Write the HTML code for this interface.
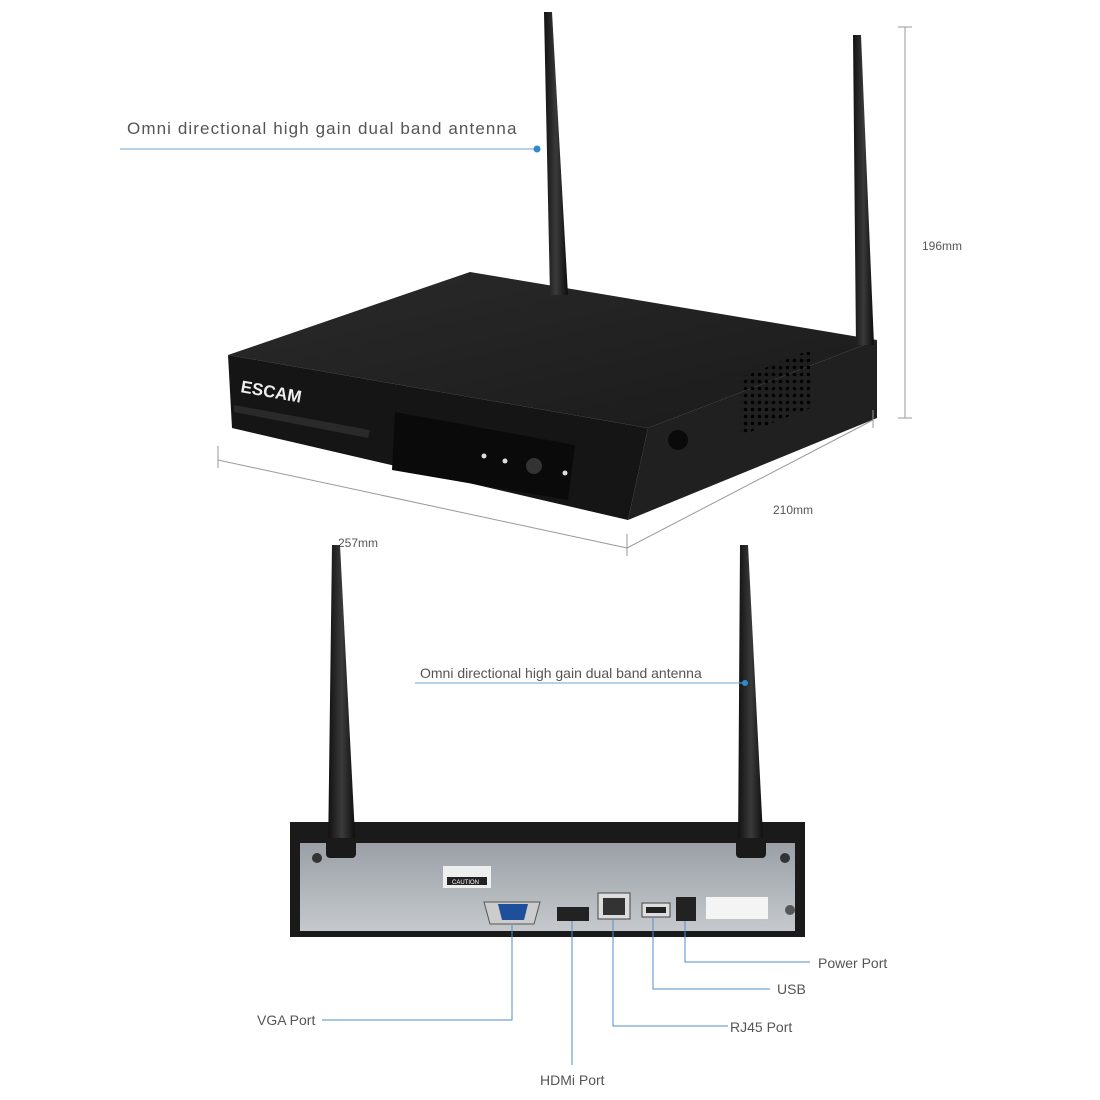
<!DOCTYPE html>
<html><head><meta charset="utf-8"><style>
html,body{margin:0;padding:0;background:#fff;}
svg{display:block;}
text{font-family:"Liberation Sans",sans-serif;fill:#555;}
</style></head><body>
<svg width="1100" height="1100" viewBox="0 0 1100 1100" xmlns="http://www.w3.org/2000/svg">
<defs>
<linearGradient id="ant" x1="0" x2="1" y1="0" y2="0"><stop offset="0" stop-color="#111"/><stop offset="0.5" stop-color="#3a3a3a"/><stop offset="1" stop-color="#0c0c0c"/></linearGradient>
<linearGradient id="top" x1="0" x2="1" y1="0" y2="1"><stop offset="0" stop-color="#2a2a2a"/><stop offset="1" stop-color="#1a1a1a"/></linearGradient>
<linearGradient id="panel" x1="0" x2="0" y1="0" y2="1"><stop offset="0" stop-color="#9aa0a6"/><stop offset="1" stop-color="#c5c9cd"/></linearGradient>
<pattern id="vent" width="7" height="7" patternUnits="userSpaceOnUse"><circle cx="3.5" cy="3.5" r="1.8" fill="#000"/></pattern>
</defs>

<!-- top device -->
<polygon points="228,355 470,272 877,340 648,428" fill="url(#top)"/>
<polygon points="228,355 648,428 628,520 232,428" fill="#151515"/>
<polygon points="648,428 877,340 877,418 628,520" fill="#202020"/>
<polygon points="395,412 575,445 568,500 392,470" fill="#0a0a0a"/>
<polygon points="234,405 370,430 368,438 234,412" fill="#2a2a2a"/>
<circle cx="534" cy="466" r="8" fill="#333"/>
<circle cx="484" cy="456" r="2.5" fill="#ddd"/><circle cx="505" cy="461" r="2.5" fill="#ddd"/><circle cx="565" cy="473" r="2.5" fill="#ddd"/>
<text x="240" y="392" font-size="17" font-weight="bold" style="fill:#eee" transform="rotate(10 240 392)">ESCAM</text>
<polygon points="740,378 810,350 810,408 740,436" fill="url(#vent)"/>
<circle cx="678" cy="440" r="10" fill="#0a0a0a"/>

<!-- top antennas -->
<polygon points="544,12 552,12 568,295 550,295" fill="url(#ant)"/>
<polygon points="853,35 861,35 874,345 856,345" fill="url(#ant)"/>

<!-- top label -->
<text x="127" y="134" font-size="17" letter-spacing="1.1">Omni directional high gain dual band antenna</text>
<line x1="120" y1="149" x2="537" y2="149" stroke="#6aa7d4" stroke-width="1"/>
<circle cx="537" cy="149" r="3.5" fill="#2d8ad0"/>

<!-- dimensions -->
<g stroke="#999" stroke-width="1" fill="none">
<line x1="905" y1="27" x2="905" y2="418"/><line x1="898" y1="27" x2="912" y2="27"/><line x1="898" y1="418" x2="912" y2="418"/>
<line x1="218" y1="460" x2="627" y2="548"/><line x1="218" y1="446" x2="218" y2="468"/><line x1="627" y1="534" x2="627" y2="556"/>
<line x1="627" y1="548" x2="873" y2="420"/><line x1="873" y1="410" x2="873" y2="428"/>
</g>
<text x="922" y="250" font-size="12">196mm</text>
<text x="338" y="547" font-size="12">257mm</text>
<text x="773" y="514" font-size="12">210mm</text>

<!-- bottom device -->
<rect x="290" y="822" width="515" height="115" fill="#1a1a1a"/>
<rect x="300" y="843" width="495" height="88" fill="url(#panel)"/>
<rect x="443" y="866" width="48" height="22" fill="#eee"/>
<rect x="447" y="877" width="40" height="8" fill="#222"/>
<text x="452" y="884" font-size="6" style="fill:#fff">CAUTION</text>
<polygon points="484,902 540,902 534,924 490,924" fill="#ccc" stroke="#555"/>
<polygon points="498,904 528,904 524,920 502,920" fill="#1d4f9a"/>
<rect x="557" y="907" width="32" height="14" fill="#222"/>
<rect x="598" y="893" width="32" height="26" fill="#ddd" stroke="#444"/>
<rect x="603" y="898" width="22" height="17" fill="#333"/>
<rect x="642" y="903" width="28" height="14" fill="#ddd" stroke="#444"/>
<rect x="646" y="907" width="20" height="6" fill="#222"/>
<rect x="676" y="897" width="20" height="24" fill="#222"/>
<rect x="706" y="897" width="62" height="22" fill="#f4f4f4"/>
<circle cx="317" cy="858" r="5" fill="#333"/><circle cx="785" cy="858" r="5" fill="#333"/><circle cx="790" cy="910" r="5" fill="#555"/>

<!-- bottom antennas -->
<polygon points="332,545 340,545 356,855 328,855" fill="url(#ant)"/>
<polygon points="740,545 748,545 764,855 738,855" fill="url(#ant)"/>
<rect x="326" y="838" width="30" height="20" rx="4" fill="#1a1a1a"/>
<rect x="736" y="838" width="30" height="20" rx="4" fill="#1a1a1a"/>

<!-- bottom antenna label -->
<text x="420" y="678" font-size="14">Omni directional high gain dual band antenna</text>
<line x1="415" y1="683" x2="745" y2="683" stroke="#6aa7d4"/>
<circle cx="745" cy="683" r="3" fill="#2d8ad0"/>

<!-- port callouts -->
<g stroke="#4f8fc6" stroke-width="1" fill="none">
<polyline points="512,925 512,1020 322,1020"/>
<polyline points="572,921 572,1065"/>
<polyline points="613,919 613,1026 728,1026"/>
<polyline points="653,917 653,989 770,989"/>
<polyline points="685,921 685,962 810,962"/>
</g>
<text x="257" y="1025" font-size="14">VGA Port</text>
<text x="540" y="1085" font-size="14">HDMi Port</text>
<text x="730" y="1032" font-size="14">RJ45 Port</text>
<text x="777" y="994" font-size="14">USB</text>
<text x="818" y="968" font-size="14">Power Port</text>
</svg>
</body></html>
